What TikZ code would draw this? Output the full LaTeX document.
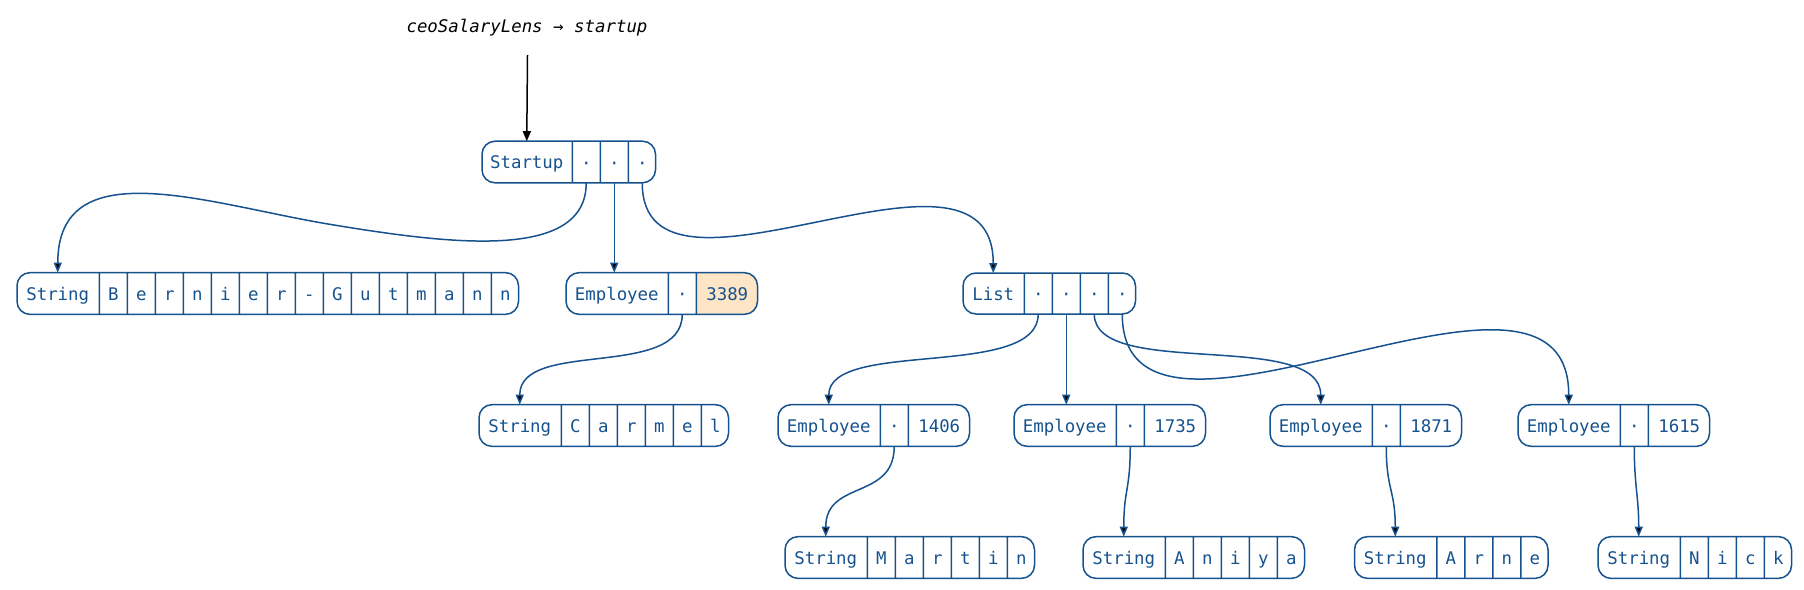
\documentclass[tikz,border=0pt]{standalone}
\usepackage{fontspec}
\setmonofont{DejaVu Sans Mono}
\usetikzlibrary{shapes.multipart,arrows.meta}
\definecolor{rb}{RGB}{22,82,142}
\definecolor{peach}{RGB}{253,229,198}
\newcommand\cstrut{\rule[-1.5pt]{0pt}{10pt}}
\newlength\lwc \setlength\lwc{0.75pt}
\newcommand\pc[1]{\makebox[\dimexpr14pt-\lwc\relax]{\cstrut#1}}
\newcommand\wc[2]{\makebox[\dimexpr#1-\lwc\relax]{\cstrut#2}}
\tikzset{
  rec/.style={draw=rb, text=rb, line width=0.75pt, rounded corners=6.5pt,
    rectangle split, rectangle split horizontal, rectangle split parts=#1,
    inner xsep=0pt, inner ysep=5.25pt, outer sep=0pt,
    font=\ttfamily\fontsize{8.7}{10}\selectfont, anchor=west},
  lnk/.style={draw=rb, line width=0.75pt, -{Triangle[length=5pt,width=4pt]}},
}
\begin{document}
\begin{tikzpicture}[x=0.5pt,y=-0.5pt]
\useasboundingbox (0,0) rectangle (1804,589);
% title
\node[font=\ttfamily\itshape\fontsize{8.7}{10}\selectfont, inner sep=0pt] (title) at (527,28) {ceoSalaryLens → startup};
\coordinate (ts) at (527.5,55);
% row 1
\node[rec=4] (st) at (482,162) {\wc{45.5pt}{Startup}\nodepart{two}\pc{·}\nodepart{three}\pc{·}\nodepart{four}\pc{·}};
% row 2
\node[rec=16] (bg) at (17,293.5) {\wc{41.5pt}{String}\nodepart{two}\pc{B}\nodepart{three}\pc{e}\nodepart{four}\pc{r}\nodepart{five}\pc{n}\nodepart{six}\pc{i}\nodepart{seven}\pc{e}\nodepart{eight}\pc{r}\nodepart{nine}\pc{-}\nodepart{ten}\pc{G}\nodepart{eleven}\pc{u}\nodepart{twelve}\pc{t}\nodepart{thirteen}\pc{m}\nodepart{fourteen}\pc{a}\nodepart{fifteen}\pc{n}\nodepart{sixteen}\pc{n}};
\node[rec=3, rectangle split part fill={white,white,peach}] (e0) at (566,293.5) {\wc{51.5pt}{Employee}\nodepart{two}\pc{·}\nodepart{three}\wc{31pt}{3389}};
\node[rec=5] (ls) at (963,293.5) {\wc{31pt}{List}\nodepart{two}\pc{·}\nodepart{three}\pc{·}\nodepart{four}\pc{·}\nodepart{five}\pc{·}};
% row 3
\node[rec=7] (cm) at (479,425.5) {\wc{41.5pt}{String}\nodepart{two}\pc{C}\nodepart{three}\pc{a}\nodepart{four}\pc{r}\nodepart{five}\pc{m}\nodepart{six}\pc{e}\nodepart{seven}\pc{l}};
\node[rec=3] (e1) at (778,425.5) {\wc{51.5pt}{Employee}\nodepart{two}\pc{·}\nodepart{three}\wc{31pt}{1406}};
\node[rec=3] (e2) at (1014,425.5) {\wc{51.5pt}{Employee}\nodepart{two}\pc{·}\nodepart{three}\wc{31pt}{1735}};
\node[rec=3] (e3) at (1270,425.5) {\wc{51.5pt}{Employee}\nodepart{two}\pc{·}\nodepart{three}\wc{31pt}{1871}};
\node[rec=3] (e4) at (1518,425.5) {\wc{51.5pt}{Employee}\nodepart{two}\pc{·}\nodepart{three}\wc{31pt}{1615}};
% row 4
\node[rec=7] (mt) at (785,557.5) {\wc{41.5pt}{String}\nodepart{two}\pc{M}\nodepart{three}\pc{a}\nodepart{four}\pc{r}\nodepart{five}\pc{t}\nodepart{six}\pc{i}\nodepart{seven}\pc{n}};
\node[rec=6] (an) at (1083,557.5) {\wc{41.5pt}{String}\nodepart{two}\pc{A}\nodepart{three}\pc{n}\nodepart{four}\pc{i}\nodepart{five}\pc{y}\nodepart{six}\pc{a}};
\node[rec=5] (ar) at (1354.5,557.5) {\wc{41.5pt}{String}\nodepart{two}\pc{A}\nodepart{three}\pc{r}\nodepart{four}\pc{n}\nodepart{five}\pc{e}};
\node[rec=5] (nk) at (1598,557.5) {\wc{41.5pt}{String}\nodepart{two}\pc{N}\nodepart{three}\pc{i}\nodepart{four}\pc{c}\nodepart{five}\pc{k}};
% connectors
\draw[line width=0.75pt, black, -{Triangle[length=5pt,width=4pt]}] (ts) -- (st.one north);
\draw[lnk] (st.two south) .. controls +(0,79) and (448,244) .. (328,224) .. controls (208,204) and +(0,-123) .. (bg.one north);
\draw[lnk] (st.three south) -- (st.three south |- e0.north);
\draw[lnk] (st.four south) .. controls +(0,150) and +(0,-163) .. (ls.one north);
\draw[lnk] (e0.two south) .. controls +(0,66) and +(0,-66) .. (cm.one north);
\draw[lnk] (ls.two south) .. controls +(0,66) and +(0,-66) .. (e1.one north);
\draw[lnk] (ls.three south) -- (ls.three south |- e2.north);
\draw[lnk] (ls.four south) .. controls +(0,66) and +(0,-76) .. (e3.one north);
\draw[lnk] (ls.five south) .. controls +(0,186) and +(0,-196) .. (e4.one north);
\draw[lnk] (e1.two south) .. controls +(0,54) and +(0,-57) .. (mt.one north);
\draw[lnk] (e2.two south) .. controls +(0,44) and +(0,-47) .. (an.one north);
\draw[lnk] (e3.two south) .. controls +(0,44) and +(0,-47) .. (ar.one north);
\draw[lnk] (e4.two south) .. controls +(0,40) and +(0,-40) .. (nk.one north);
\end{tikzpicture}
\end{document}
